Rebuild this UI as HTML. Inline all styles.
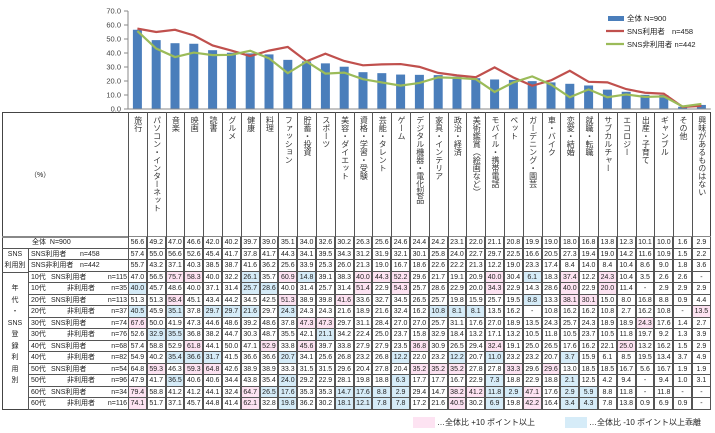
<!DOCTYPE html>
<html><head><meta charset="utf-8">
<style>
body{margin:0;width:715px;height:433px;background:#fff;overflow:hidden;font-family:"Liberation Sans","Noto Sans CJK JP",sans-serif;color:#222;position:relative}
.a{position:absolute;box-sizing:border-box}
.c{font-size:7px;text-align:center;line-height:11px;border-right:1px solid #555;border-bottom:1px solid #555;height:11.5px}
.v{writing-mode:vertical-rl;text-orientation:upright;font-size:8px;letter-spacing:0px;line-height:18px;text-align:left;padding-top:4px;color:#333}
.lb{font-size:7px;line-height:11px;white-space:pre;color:#222}
</style></head><body>
<svg class="a" style="left:0;top:0" width="715" height="433" id="sv"></svg>
<div id="t"></div>
<div class="a" style="left:413px;top:417px;width:22px;height:11px;background:#fde3f2"></div>
<div class="a lb" style="left:437px;top:417px;font-size:8px">…全体比 +10 ポイント以上</div>
<div class="a" style="left:565px;top:417px;width:22px;height:11px;background:#d6ecf8"></div>
<div class="a lb" style="left:589px;top:417px;font-size:8px">…全体比 -10 ポイント以上乖離</div>
<script>
var cats=["旅行","パソコン・インターネット","音楽","映画","読書","グルメ","健康","料理","ファッション","貯蓄・投資","スポーツ","美容・ダイエット","資格・学習・受験","芸能・タレント","ゲーム","デジタル機器・電化製品","家具・インテリア","政治・経済","美術鑑賞（絵画など）","モバイル・携帯電話","ペット","ガーデニング・園芸","車・バイク","恋愛・結婚","就職・転職","サブカルチャー","エコロジー","出産・子育て","ギャンブル","その他","興味があるものはない"];
function P(s){return s.split(" ");}
var rows=[
["全体|N=900","56.6 49.2 47.0 46.6 42.0 40.2 39.7 39.0 35.1 34.0 32.6 30.2 26.3 25.6 24.6 24.4 24.2 23.1 22.0 21.1 20.8 19.9 19.0 18.0 16.8 13.8 12.3 10.1 10.0 1.6 2.9","",""],
["SNS利用者|n=458","57.4 55.0 56.6 52.6 45.4 41.7 37.8 41.7 44.3 34.1 39.5 34.3 31.2 31.9 32.1 30.1 25.8 24.0 22.7 29.7 22.5 16.6 20.5 27.3 19.4 19.0 14.2 11.6 10.9 1.5 2.2","",""],
["SNS非利用者|n=442","55.7 43.2 37.1 40.3 38.5 38.7 41.6 36.2 25.6 33.9 25.3 26.0 21.3 19.0 16.7 18.6 22.6 22.2 21.3 12.2 19.0 23.3 17.4 8.4 14.0 8.4 10.4 8.6 9.0 1.8 3.6","",""],
["10代|SNS利用者|n=115","47.0 56.5 75.7 58.3 40.0 32.2 26.1 35.7 60.9 14.8 39.1 38.3 40.0 44.3 52.2 29.6 21.7 19.1 20.9 40.0 30.4 6.1 18.3 37.4 12.2 24.3 10.4 3.5 2.6 2.6 -","2 3 8 12 13 14 19 23 25","6 9 21"],
["10代|非利用者|n=35","40.0 45.7 48.6 40.0 37.1 31.4 25.7 28.6 40.0 31.4 25.7 31.4 51.4 22.9 54.3 25.7 28.6 22.9 20.0 34.3 22.9 14.3 28.6 40.0 22.9 20.0 11.4 - 2.9 2.9 2.9","12 14 19 23 25","0 6 7"],
["20代|SNS利用者|n=113","51.3 51.3 58.4 45.1 43.4 44.2 34.5 42.5 51.3 38.9 39.8 41.6 33.6 32.7 34.5 26.5 25.7 19.8 15.9 25.7 19.5 8.8 13.3 38.1 30.1 15.0 8.0 16.8 8.8 0.9 4.4","2 8 11 23 24","21"],
["20代|非利用者|n=37","40.5 45.9 35.1 37.8 29.7 29.7 21.6 29.7 24.3 24.3 24.3 21.6 18.9 21.6 32.4 16.2 10.8 8.1 8.1 13.5 16.2 - 10.8 16.2 16.2 10.8 2.7 16.2 10.8 - 13.5","30","0 2 4 5 6 8 16 17 18"],
["30代|SNS利用者|n=74","67.6 50.0 41.9 47.3 44.6 48.6 39.2 48.6 37.8 47.3 47.3 29.7 31.1 28.4 27.0 27.0 25.7 31.1 17.6 27.0 18.9 13.5 24.3 25.7 24.3 18.9 18.9 24.3 17.6 1.4 2.7","0 9 10 27",""],
["30代|非利用者|n=76","52.6 32.9 35.5 36.8 38.2 44.7 30.3 48.7 35.5 42.1 21.1 34.2 22.4 25.0 23.7 15.8 32.9 18.4 13.2 17.1 13.2 10.5 11.8 10.5 23.7 10.5 11.8 19.7 9.2 1.3 3.9","","1 2 10"],
["40代|SNS利用者|n=68","57.4 58.8 52.9 61.8 44.1 50.0 47.1 52.9 33.8 45.6 39.7 33.8 27.9 27.9 23.5 36.8 30.9 26.5 29.4 32.4 19.1 25.0 26.5 17.6 16.2 22.1 25.0 13.2 16.2 1.5 2.9","3 7 9 15 19 26",""],
["40代|非利用者|n=82","54.9 40.2 35.4 36.6 31.7 41.5 36.6 36.6 20.7 34.1 25.6 26.8 23.2 26.8 12.2 22.0 23.2 12.2 20.7 11.0 23.2 23.2 20.7 3.7 15.9 6.1 8.5 19.5 13.4 3.7 4.9","","2 3 4 8 14 17 19 23"],
["50代|SNS利用者|n=54","64.8 59.3 46.3 59.3 64.8 42.6 38.9 38.9 33.3 31.5 31.5 29.6 20.4 27.8 20.4 35.2 35.2 35.2 27.8 27.8 33.3 29.6 29.6 13.0 18.5 18.5 16.7 5.6 16.7 1.9 1.9","1 3 4 15 16 17 20 22",""],
["50代|非利用者|n=96","47.9 41.7 36.5 40.6 40.6 34.4 43.8 35.4 24.0 29.2 22.9 28.1 19.8 18.8 6.3 17.7 17.7 16.7 22.9 7.3 18.8 22.9 18.8 2.1 12.5 4.2 9.4 - 9.4 1.0 3.1","","2 8 14 19 23"],
["60代|SNS利用者|n=34","79.4 58.8 41.2 41.2 44.1 32.4 64.7 26.5 17.6 35.3 35.3 14.7 17.6 8.8 2.9 29.4 14.7 38.2 41.2 11.8 2.9 47.1 17.6 2.9 5.9 8.8 11.8 - 11.8 - -","0 6 17 18 21","7 8 11 12 13 14 19 20 23 24"],
["60代|非利用者|n=116","74.1 51.7 37.1 45.7 44.8 41.4 62.1 32.8 19.8 36.2 30.2 18.1 12.1 7.8 7.8 17.2 21.6 40.5 30.2 6.9 19.8 42.2 16.4 3.4 4.3 7.8 13.8 0.9 6.9 0.9 -","0 6 17 21","8 11 12 13 14 19 23 24"]
];
var X0=128,W=18.8,T0=237,RH=11.5,h="";
h+='<div class="a" style="left:2px;top:112px;width:'+(X0+31*W-2)+'px;height:'+(T0+15*RH-112)+'px;border:1px solid #444"></div>';
h+='<div class="a" style="left:2px;top:'+(T0-1)+'px;width:'+(X0+31*W-2)+'px;height:1px;border-top:2px solid #888"></div>';
h+='<div class="a lb" style="left:30px;top:170px">（%）</div>';
for(var j=0;j<31;j++){
 h+='<div class="a v" style="left:'+(X0+j*W)+'px;top:112px;width:'+W+'px;height:'+(T0-112)+'px;border-left:1px solid #555">'+cats[j]+'</div>';
}
for(var i=0;i<15;i++){
 var y=T0+i*RH,r=rows[i],v=P(r[1]),pk=r[2]?P(r[2]):[],bl=r[3]?P(r[3]):[];
 var lx=i==0?2:28;
 h+='<div class="a" style="left:'+lx+'px;top:'+y+'px;width:'+(X0-lx)+'px;height:'+RH+'px;border-bottom:1px solid #555;border-left:'+(i?1:0)+'px solid #555"></div>';
 var L=r[0].split("|");
 if(i==0){h+='<div class="a lb" style="left:32px;top:'+y+'px">'+L[0]+'  '+L[1]+'</div>';}
 else if(L.length==2){h+='<div class="a lb" style="left:31px;top:'+y+'px">'+L[0]+'</div><div class="a lb" style="left:80px;top:'+y+'px">'+L[1]+'</div>';}
 else{h+='<div class="a lb" style="left:31px;top:'+y+'px">'+L[0]+'</div><div class="a lb" style="left:'+(L[1]=="SNS利用者"?51:67)+'px;top:'+y+'px">'+L[1]+'</div><div class="a lb" style="left:98px;width:29px;text-align:right;top:'+y+'px">'+L[2]+'</div>';}
 for(var j=0;j<31;j++){
  var bg=pk.indexOf(""+j)>=0?"#fde3f2":(bl.indexOf(""+j)>=0?"#d6ecf8":"#fff");
  h+='<div class="a c" style="left:'+(X0+j*W)+'px;top:'+y+'px;width:'+W+'px;background:'+bg+';border-left:1px solid #555">'+v[j]+'</div>';
 }
}
var c1=["","SNS","利用別","","年","代","・","SNS","登","録","利","用","別","",""];
for(var i=1;i<15;i++){h+='<div class="a lb" style="left:2px;width:26px;text-align:center;top:'+(T0+i*RH)+'px">'+c1[i]+'</div>';}
h+='<div class="a" style="left:2px;top:'+(T0+3*RH)+'px;width:26px;height:1px;border-top:1px solid #555"></div>';
document.getElementById("t").innerHTML=h;
var s="",Y0=109,k=1.4;
for(var t=0;t<=70;t+=10){var y=Y0-t*k;s+='<line x1="124" x2="128" y1="'+y+'" y2="'+y+'" stroke="#888"/><text x="121" y="'+(y+2.5)+'" font-size="7.5" text-anchor="end" fill="#444">'+t.toFixed(1)+'</text>';}
s+='<line x1="128" x2="128" y1="'+(Y0-70*k)+'" y2="'+Y0+'" stroke="#888"/>';
var a=P(rows[0][1]),b=P(rows[1][1]),g=P(rows[2][1]),pb="",pg="";
for(var j=0;j<31;j++){var cx=X0+j*W+W/2;s+='<rect x="'+(cx-4.5)+'" y="'+(Y0-a[j]*k)+'" width="9" height="'+(a[j]*k)+'" fill="#4a7ebb"/>';pb+=cx+","+(Y0-b[j]*k)+" ";pg+=cx+","+(Y0-g[j]*k)+" ";}
s+='<line x1="128" x2="'+(X0+31*W)+'" y1="'+Y0+'" y2="'+Y0+'" stroke="#888"/>';
s+='<polyline points="'+pb+'" fill="none" stroke="#c0504d" stroke-width="2.2"/><polyline points="'+pg+'" fill="none" stroke="#9bbb59" stroke-width="2.2"/>';
s+='<rect x="608" y="16" width="16" height="5" fill="#4a7ebb"/><text x="627" y="21" font-size="7.5" fill="#222">全体  N=900</text>';
s+='<line x1="606" x2="624" y1="31" y2="31" stroke="#c0504d" stroke-width="2.2"/><text x="627" y="34" font-size="7.5" fill="#222">SNS利用者</text><text x="672" y="34" font-size="7.5" fill="#222">n=458</text>';
s+='<line x1="606" x2="624" y1="44" y2="44" stroke="#9bbb59" stroke-width="2.2"/><text x="627" y="47" font-size="7.5" fill="#222">SNS非利用者  n=442</text>';
document.getElementById("sv").innerHTML=s;
</script>
</body></html>
